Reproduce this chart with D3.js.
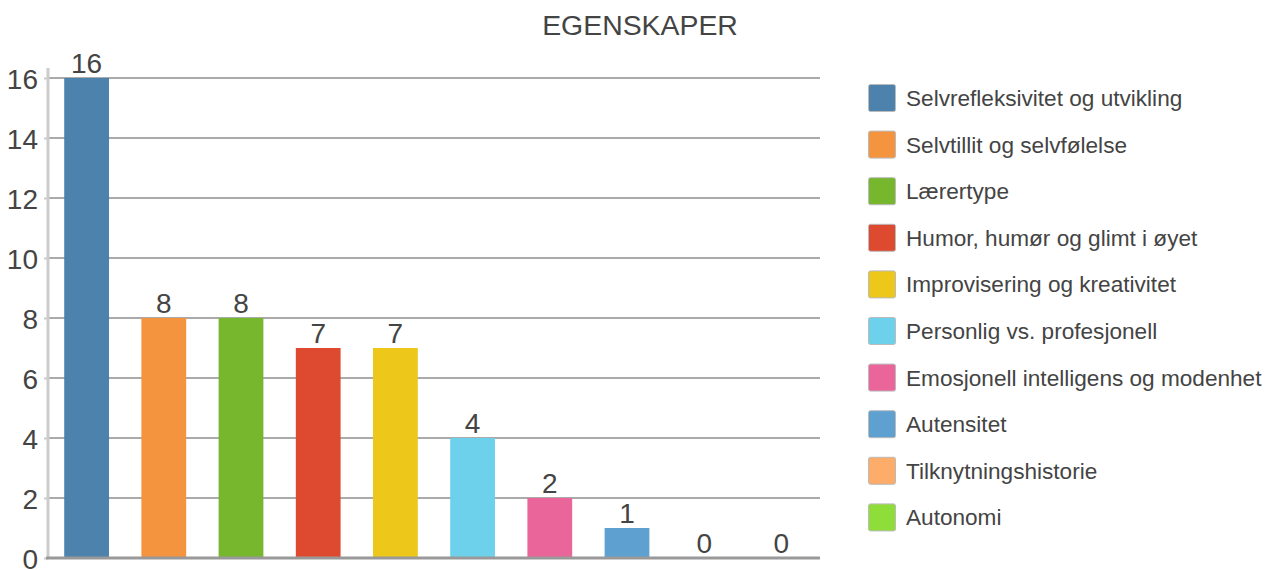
<!DOCTYPE html>
<html>
<head>
<meta charset="utf-8">
<script src="https://cdn.jsdelivr.net/npm/d3@7"></script>
<style>
  body { margin: 0; background: #fff; }
  svg { display: block; font-family: "Liberation Sans", Arial, Helvetica, sans-serif; }
</style>
</head>
<body>
<div id="chart"></div>
<script>
const title = 'EGENSKAPER';
const categories = [
  'Selvrefleksivitet og utvikling',
  'Selvtillit og selvfølelse',
  'Lærertype',
  'Humor, humør og glimt i øyet',
  'Improvisering og kreativitet',
  'Personlig vs. profesjonell',
  'Emosjonell intelligens og modenhet',
  'Autensitet',
  'Tilknytningshistorie',
  'Autonomi'
];
const values = [16, 8, 8, 7, 7, 4, 2, 1, 0, 0];
const colors = ['#4d82ad', '#f4943f', '#77b72d', '#de4a30', '#edc71a',
                '#6ed1ec', '#ea659a', '#5ea0d0', '#fdac6a', '#8fdd38'];
const yTicks = [0, 2, 4, 6, 8, 10, 12, 14, 16];

const width = 1268, height = 570;
const textColor = '#444';

const svg = d3.select('#chart').append('svg')
  .attr('width', width)
  .attr('height', height);

const x = d3.scaleBand()
  .domain(categories)
  .range([48, 820])
  .paddingInner(0.42)
  .paddingOuter(0.21);

const y = d3.scaleLinear()
  .domain([0, 16])
  .range([558, 78]);

// title
svg.append('text')
  .attr('x', 640)
  .attr('y', 35)
  .attr('text-anchor', 'middle')
  .attr('font-size', 28.4)
  .attr('fill', textColor)
  .text(title);

// gridlines
svg.append('g')
  .selectAll('line')
  .data(yTicks.filter(d => d > 0))
  .join('line')
  .attr('x1', 48)
  .attr('x2', 820)
  .attr('y1', d => y(d))
  .attr('y2', d => y(d))
  .attr('stroke', '#aaa')
  .attr('stroke-width', 2);

// y axis
const yAxis = svg.append('g')
  .attr('transform', 'translate(48,0)')
  .call(d3.axisLeft(y).tickValues(yTicks).tickSize(4).tickPadding(6));
yAxis.select('.domain').remove();
yAxis.selectAll('.tick line').attr('stroke', '#ccc').attr('stroke-width', 2);
yAxis.selectAll('.tick text')
  .attr('font-size', 28)
  .attr('font-family', '"Liberation Sans", Arial, sans-serif')
  .attr('fill', textColor)
  .attr('dy', '0.36em');
svg.append('line')
  .attr('x1', 48).attr('x2', 48)
  .attr('y1', 68).attr('y2', 558)
  .attr('stroke', '#ccc')
  .attr('stroke-width', 3);

// bars
svg.append('g')
  .selectAll('rect')
  .data(categories)
  .join('rect')
  .attr('x', d => x(d))
  .attr('width', x.bandwidth())
  .attr('y', (d, i) => y(values[i]))
  .attr('height', (d, i) => y(0) - y(values[i]))
  .attr('fill', (d, i) => colors[i]);

// value labels
svg.append('g')
  .selectAll('text')
  .data(categories)
  .join('text')
  .attr('x', d => x(d) + x.bandwidth() / 2)
  .attr('y', (d, i) => y(values[i]) - 5)
  .attr('text-anchor', 'middle')
  .attr('font-size', 28)
  .attr('fill', textColor)
  .text((d, i) => values[i]);

// bottom axis line
svg.append('line')
  .attr('x1', 46).attr('x2', 820)
  .attr('y1', y(0)).attr('y2', y(0))
  .attr('stroke', '#999')
  .attr('stroke-width', 3);

// legend
const legend = svg.append('g')
  .selectAll('g')
  .data(categories)
  .join('g')
  .attr('transform', (d, i) => `translate(868,${98 + i * 46.6})`);

legend.append('rect')
  .attr('x', 0.5)
  .attr('y', -13.5)
  .attr('width', 27)
  .attr('height', 27)
  .attr('rx', 2)
  .attr('fill', (d, i) => colors[i])
  .attr('stroke', '#bbb')
  .attr('stroke-width', 1);

legend.append('text')
  .attr('x', 38)
  .attr('y', 0)
  .attr('dy', '0.35em')
  .attr('font-size', 22.6)
  .attr('fill', textColor)
  .text(d => d);
</script>
</body>
</html>
